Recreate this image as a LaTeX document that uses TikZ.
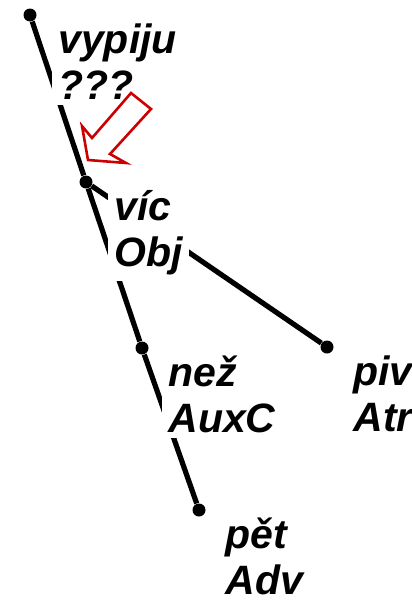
\documentclass[tikz,border=0pt]{standalone}
\usepackage{fontspec}
\setmainfont{Liberation Sans}
\usetikzlibrary{calc}
\definecolor{hintred}{RGB}{204,0,0}

\begin{document}
\begin{tikzpicture}[
  x=0.5pt, y=-0.5pt,
  dot/.style={circle, fill=black, inner sep=0pt, minimum size=6.5pt},
  lbl/.style={anchor=base west, align=left, fill=white, inner sep=3pt, font=\fontsize{20.5}{23}\selectfont\bfseries\itshape},
  edge/.style={line width=2.6pt},
  hint/.style={draw=hintred, line width=1.3pt, fill=white, line join=miter}
]
\useasboundingbox (0,0) rectangle (412,600);

\node[dot] (vypiju) at (30,15) {};
\node[dot] (vic) at (86,182) {};
\node[dot] (nez) at (142,348) {};
\node[dot] (piv) at (327,347) {};
\node[dot] (pet) at (199,510) {};

\draw[edge] (vypiju) -- (vic);
\draw[edge] (vic) -- (nez);
\draw[edge] (vic) -- (piv);
\draw[edge] (nez) -- (pet);

% base of the second line
\node[lbl] (vypiju-l) at ($(vypiju.center)+(22,84)$) {vypiju\\???};
\node[lbl] (vic-l) at ($(vic.center)+(22,84)$) {víc\\Obj};
\node[lbl] (nez-l) at ($(nez.center)+(20,84)$) {než\\AuxC};
\node[lbl] (piv-l) at ($(piv.center)+(20,84)$) {piv\\Atr};
\node[lbl] (pet-l) at ($(pet.center)+(20,84)$) {pět\\Adv};

% red hint arrow
\draw[hint] (131,93) -- (151,109) -- (110,154) -- (126,163) -- (88,160) -- (82,126) -- (92,138) -- cycle;
\end{tikzpicture}
\end{document}
